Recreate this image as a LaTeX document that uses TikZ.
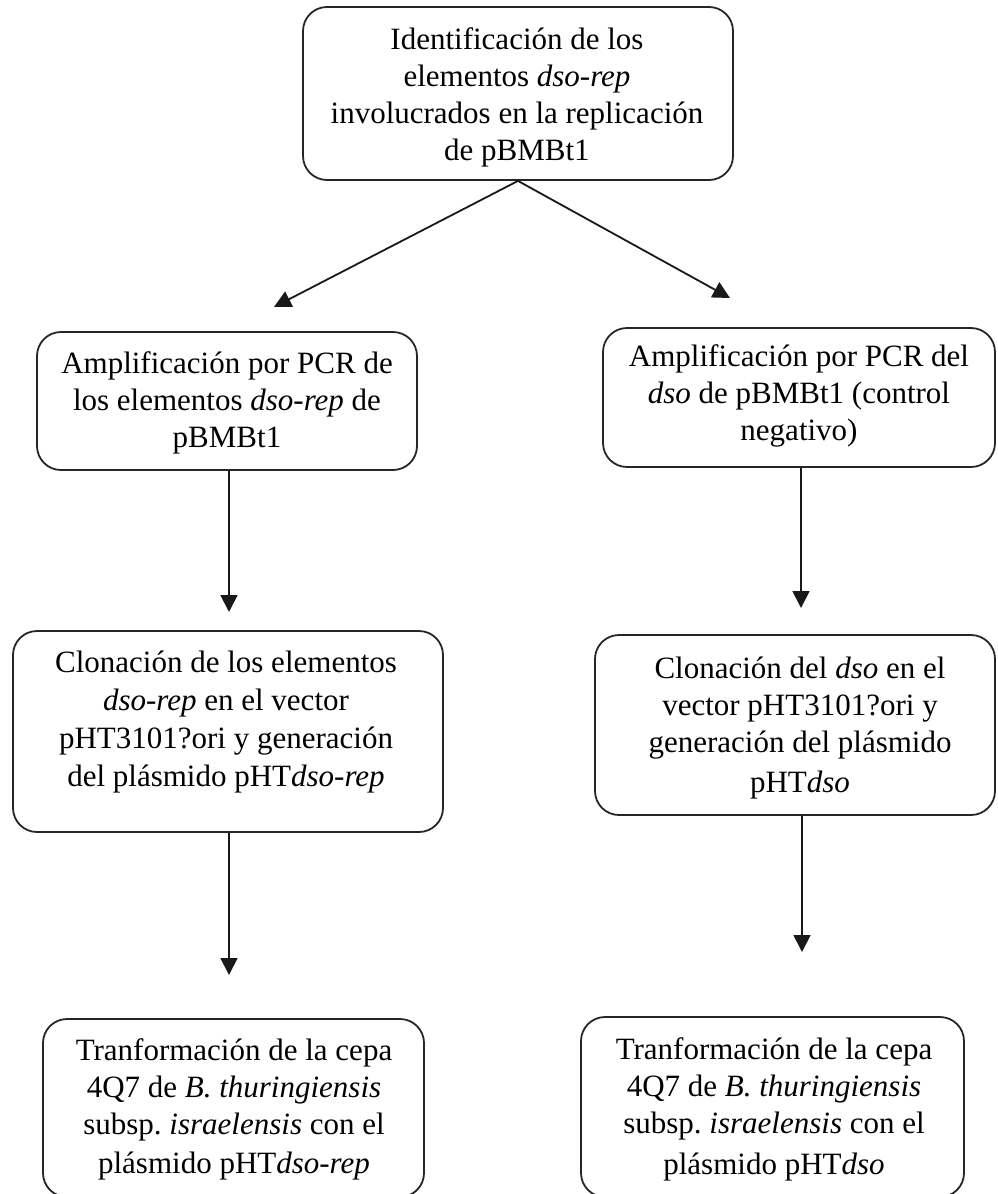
\documentclass[tikz,border=0pt]{standalone}
\usepackage{fontspec}
\setmainfont{Liberation Serif}
\frenchspacing
\usetikzlibrary{arrows.meta}
\tikzset{
  stepbox/.style={draw=black!85, line width=1.8pt, rounded corners=24pt, inner sep=0pt},
  steptext/.style={align=center, inner sep=0pt, font=\fontsize{31}{37}\selectfont},
  flow/.style={draw=black!90, line width=1.8pt, -{Triangle[length=17pt,width=17pt]}}
}
\begin{document}
\begin{tikzpicture}[x=1pt,y=-1pt]
\useasboundingbox (0,0) rectangle (997,1194);
% boxes
\node[stepbox, minimum width=430pt, minimum height=173pt] (b1) at (518,93.5) {};
\node[stepbox, minimum width=380pt, minimum height=138pt] (b2) at (227,401) {};
\node[stepbox, minimum width=392pt, minimum height=139pt] (b3) at (799,397.5) {};
\node[stepbox, minimum width=430pt, minimum height=201pt] (b4) at (228,731.5) {};
\node[stepbox, minimum width=400pt, minimum height=180pt] (b5) at (795,725) {};
\node[stepbox, minimum width=381pt, minimum height=178pt] (b6) at (233.5,1108) {};
\node[stepbox, minimum width=383pt, minimum height=180pt] (b7) at (772.5,1107) {};
% texts
\node[steptext] (t1) at (517,97) {Identificación de los\\elementos \textit{dso-rep}\\involucrados en la replicación\\de pBMBt1};
\node[steptext] (t2) at (227,403) {Amplificación por PCR de\\los elementos \textit{dso-rep} de\\pBMBt1};
\node[steptext] (t3) at (799,396) {Amplificación por PCR del\\\textit{dso} de pBMBt1 (control\\negativo)};
\node[steptext] (t4) at (226,722) {Clonación de los elementos\\[1pt]\textit{dso-rep} en el vector\\[1pt]pHT3101?ori y generación\\[1pt]del plásmido pHT\textit{dso-rep}};
\node[steptext] (t5) at (800,728) {Clonación del \textit{dso} en el\\vector pHT3101?ori y\\generación del plásmido\\[3pt]pHT\textit{dso}};
\node[steptext] (t6) at (234,1109) {Tranformación de la cepa\\4Q7 de \textit{B. thuringiensis}\\subsp. \textit{israelensis} con el\\[2pt]plásmido pHT\textit{dso-rep}};
\node[steptext] (t7) at (774,1109) {Tranformación de la cepa\\4Q7 de \textit{B. thuringiensis}\\subsp. \textit{israelensis} con el\\[4pt]plásmido pHT\textit{dso}};
% arrow ends
\coordinate (e1) at (274,307);
\coordinate (e2) at (730,298);
\coordinate (e3) at (229,612);
\coordinate (e4) at (801,608);
\coordinate (e5) at (229,975);
\coordinate (e6) at (802,952);
% connectors
\draw[flow] (b1.south) -- (e1);
\draw[flow] (b1.south) -- (e2);
\draw[flow] (b2.south -| e3) -- (e3);
\draw[flow] (b3.south -| e4) -- (e4);
\draw[flow] (b4.south -| e5) -- (e5);
\draw[flow] (b5.south -| e6) -- (e6);
\end{tikzpicture}
\end{document}
